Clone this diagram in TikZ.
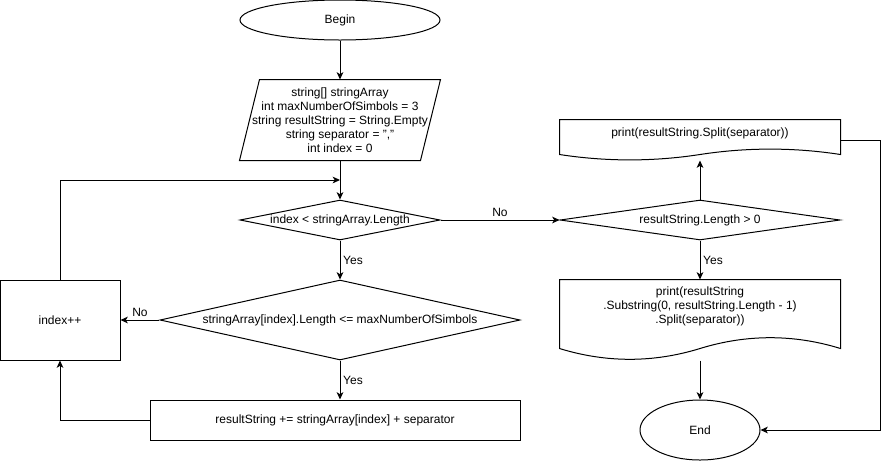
\documentclass[tikz,border=0pt]{standalone}
\usepackage{fontspec}
\setmainfont{Liberation Sans}
\usetikzlibrary{shapes.geometric,arrows.meta}

\tikzset{
	terminal/.style={draw, ellipse, inner sep=0pt},
	process/.style={draw, rectangle, inner sep=0pt},
	decision/.style={draw, diamond, inner sep=0pt},
	iobox/.style={rectangle, inner sep=0pt, align=center},
	docbox/.style={rectangle, inner sep=0pt, align=center},
	flow/.style={-{Stealth[length=5.5pt,width=5pt,inset=1.5pt]}},
	answer/.style={inner sep=2pt},
}

\begin{document}
\begin{tikzpicture}[x=0.75pt,y=0.75pt,yscale=-1,xscale=1,line width=0.75pt,font=\fontsize{9}{10.5}\selectfont]
	\useasboundingbox (0,0) rectangle (890,462);

	\node[terminal, minimum width=150pt, minimum height=30pt] (begin) at (340,20) {Begin};
	\node[iobox, minimum width=150pt, minimum height=60pt] (init) at (340,120) {string[] stringArray\\int maxNumberOfSimbols = 3\\string resultString = String.Empty\\string separator = ","\\int index = 0};
	\draw (init.south west) -- ([xshift=15pt]init.north west) -- (init.north east) -- ([xshift=-15pt]init.south east) -- cycle;
	\coordinate (loop) at (340,180);
	\node[decision, aspect=5, minimum width=150pt, minimum height=30pt] (more) at (340,220) {index < stringArray.Length};
	\node[decision, aspect=4.5, minimum width=270pt, minimum height=60pt] (fits) at (340,320) {stringArray[index].Length <= maxNumberOfSimbols};
	\node[process, minimum width=90pt, minimum height=60pt] (inc) at (60,320) {index++};
	\node[process, minimum width=277.5pt, minimum height=30pt] (append) at (335,420) {resultString += stringArray[index] + separator};

	\node[decision, aspect=7, minimum width=210pt, minimum height=30pt] (hasText) at (700,220) {resultString.Length > 0};
	\node[docbox, minimum width=210pt, minimum height=30pt, text depth=12pt] (printAll) at (700,140) {print(resultString.Split(separator))};
	\draw (printAll.north west) -- (printAll.north east) -- ([yshift=-4.5pt]printAll.south east) .. controls +(-46.67,-7.2) and +(46.67,-7.2) .. ([yshift=-4.5pt]printAll.south) .. controls +(-46.67,7.2) and +(46.67,7.2) .. ([yshift=-4.5pt]printAll.south west) -- cycle;
	\node[docbox, minimum width=210pt, minimum height=60pt, text depth=22pt] (printTrim) at (700,320) {print(resultString\\.Substring(0, resultString.Length - 1)\\.Split(separator))};
	\draw (printTrim.north west) -- (printTrim.north east) -- ([yshift=-9pt]printTrim.south east) .. controls +(-46.67,-14.4) and +(46.67,-14.4) .. ([yshift=-9pt]printTrim.south) .. controls +(-46.67,14.4) and +(46.67,14.4) .. ([yshift=-9pt]printTrim.south west) -- cycle;
	\node[terminal, minimum width=90pt, minimum height=45pt] (finish) at (700,430) {End};

	\draw[flow] (begin) -- (init);
	\draw[flow] (init) -- (more);
	\draw[flow] (inc) |- (loop);
	\draw[flow] (more) -- node[answer, right] {Yes} (fits);
	\draw[flow] (more) -- node[answer, above] {No} (hasText);
	\draw[flow] (fits) -- node[answer, above] {No} (inc);
	\draw[flow] (fits) -- node[answer, right] {Yes} (fits.south |- append.north);
	\draw[flow] (append) -| (inc);
	\draw[flow] (hasText) -- (printAll);
	\draw[flow] (hasText) -- node[answer, right] {Yes} (printTrim);
	\draw[flow] (printTrim) -- (finish);
	\draw[flow] (printAll.east) -- ++(40,0) |- (finish);
\end{tikzpicture}
\end{document}
